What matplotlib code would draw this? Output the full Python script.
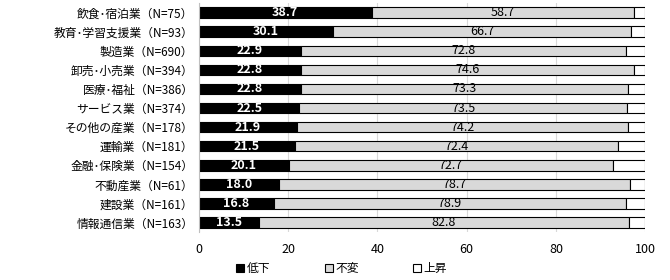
import matplotlib
matplotlib.use("Agg")
import matplotlib.pyplot as plt
import numpy as np

plt.rcParams['font.family'] = ['Noto Sans CJK JP', 'DejaVu Sans']

categories = ["飲食･宿泊業（N=75）", "教育･学習支援業（N=93）", "製造業（N=690）",
              "卸売･小売業（N=394）", "医療･福祉（N=386）", "サービス業（N=374）",
              "その他の産業（N=178）", "運輸業（N=181）", "金融･保険業（N=154）",
              "不動産業（N=61）", "建設業（N=161）", "情報通信業（N=163）"]
down = [38.7, 30.1, 22.9, 22.8, 22.8, 22.5, 21.9, 21.5, 20.1, 18.0, 16.8, 13.5]
same = [58.7, 66.7, 72.8, 74.6, 73.3, 73.5, 74.2, 72.4, 72.7, 78.7, 78.9, 82.8]
up = [2.6, 3.2, 4.3, 2.6, 3.9, 4.0, 3.9, 6.1, 7.2, 3.3, 4.3, 3.7]
xticks = [0, 20, 40, 60, 80, 100]

fig = plt.figure(figsize=(6.7, 2.8), dpi=100)
ax = fig.add_axes([0.297, 0.171, 0.666, 0.818])

y = np.arange(len(categories))
h = 0.55
b1 = ax.barh(y, down, height=h, color="black", edgecolor="black", linewidth=0.8, label="低下")
b2 = ax.barh(y, same, left=down, height=h, color="#d9d9d9", edgecolor="black", linewidth=0.8, label="不変")
left3 = np.array(down) + np.array(same)
b3 = ax.barh(y, up, left=left3, height=h, color="white", edgecolor="black", linewidth=0.8, label="上昇")

for i in range(len(categories)):
    ax.text(down[i] / 2, y[i], "%.1f" % down[i], ha="center", va="center",
            color="white", fontsize=9, fontweight="bold")
    ax.text(down[i] + same[i] / 2, y[i], "%.1f" % same[i], ha="center", va="center",
            color="black", fontsize=9)

ax.set_xlim(0, 100)
ax.set_ylim(len(categories) - 0.5, -0.5)
ax.set_yticks(y)
ax.set_yticklabels(categories, fontsize=8.5)
ax.set_xticks(xticks)
ax.tick_params(axis="x", labelsize=9, length=0, pad=8)
ax.tick_params(axis="y", length=0, pad=4)
ax.xaxis.grid(True, color="#d9d9d9", linewidth=0.8)
ax.set_axisbelow(True)
for s in ["top", "right", "bottom"]:
    ax.spines[s].set_visible(False)
ax.spines["left"].set_color("#bfbfbf")

fig.legend(handles=[b1, b2, b3], loc="center", bbox_to_anchor=(0.51, 0.04), ncol=3,
           frameon=False, fontsize=8.5, handlelength=0.7, handleheight=0.7,
           handletextpad=0.2, columnspacing=4.6)

fig.savefig("out.png")
